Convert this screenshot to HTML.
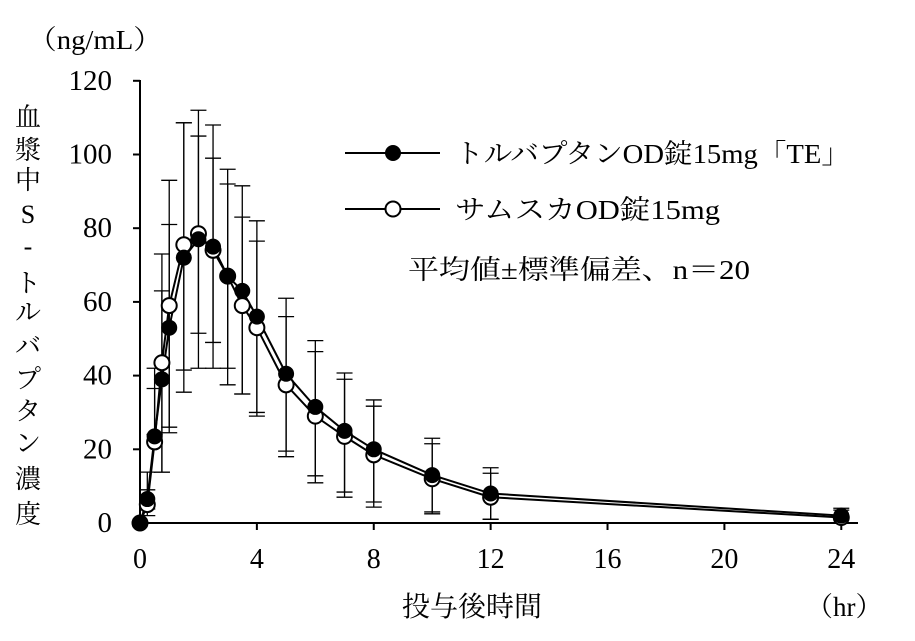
<!DOCTYPE html>
<html><head><meta charset="utf-8"><style>
body{margin:0;background:#fff}
svg{display:block}
text{font-family:"Liberation Serif","Noto Serif CJK JP",serif;fill:#000}
</style></head><body>
<svg id="s" width="915" height="641" xmlns="http://www.w3.org/2000/svg">
<text x="28" y="49" font-size="27" textLength="134" lengthAdjust="spacingAndGlyphs">（ng/mL）</text>
<g font-size="26" text-anchor="middle">
<text x="28" y="126">血</text><text x="28" y="159">漿</text><text x="28" y="189">中</text>
<text x="28" y="223">S</text><text x="28" y="255">-</text><text x="28" y="292">ト</text>
<text x="28" y="321">ル</text><text x="28" y="355">バ</text><text x="28" y="388">プ</text>
<text x="28" y="420">タ</text><text x="28" y="452">ン</text><text x="28" y="488">濃</text>
<text x="28" y="523">度</text>
</g>
<text x="472" y="616" font-size="28" text-anchor="middle">投与後時間</text>
<text x="806" y="616" font-size="27">（hr）</text>
<g stroke="#000" stroke-width="2" fill="none">
<line x1="140" y1="80" x2="140" y2="524"/>
<line x1="139" y1="523" x2="858" y2="523"/>
</g>
<g id="g"></g>
<text x="455" y="163" font-size="27" textLength="395" lengthAdjust="spacingAndGlyphs">トルバプタンOD錠15mg「TE」</text>
<text x="455" y="219" font-size="27" textLength="265" lengthAdjust="spacingAndGlyphs">サムスカOD錠15mg</text>
<text x="408" y="279" font-size="27" textLength="342" lengthAdjust="spacingAndGlyphs">平均値±標準偏差、n＝20</text>
<g stroke="#000" stroke-width="2">
<line x1="345" y1="153" x2="440" y2="153"/><line x1="345" y1="209" x2="440" y2="209"/>
</g>
<circle cx="393" cy="153" r="8" fill="#000"/>
<circle cx="393" cy="209" r="7.5" fill="#fff" stroke="#000" stroke-width="2"/>
</svg>
<script>
var NS="http://www.w3.org/2000/svg",g=document.getElementById('g');
function X(t){return 140+t*29.22}function Y(v){return 523-v*3.685}
function el(n,a,p){var e=document.createElementNS(NS,n);for(var k in a)e.setAttribute(k,a[k]);(p||g).appendChild(e);return e}
for(var i=0;i<=6;i++){var v=i*20;el('line',{x1:133,x2:140,y1:Y(v),y2:Y(v),stroke:'#000','stroke-width':2});
var t=el('text',{x:112,y:Y(v)+9,'font-size':29,'text-anchor':'end'});t.textContent=v;}
[0,4,8,12,16,20,24].forEach(function(h){el('line',{x1:X(h),x2:X(h),y1:523,y2:530,stroke:'#000','stroke-width':2});
var t=el('text',{x:X(h),y:568,'font-size':28,'text-anchor':'middle'});t.textContent=h;});
var T=[0,0.25,0.5,0.75,1,1.5,2,2.5,3,3.5,4,5,6,7,8,10,12,24];
var A=[0,6.5,23.5,39,53,72,77,75,67,63,56,40.5,31.5,25,20,13,8,2];
var B=[0,5,22,43.5,59,75.5,78.5,74,67,59,53,37.5,29,23.5,18.5,12,7,1.5];
var up=[[0,0],[13.8,9],[42,36.5],[73,63],[93,81],[108.6,108.6],[112,105],[108,99],[96,92],[91.5,83],[82,76.5],[61,56],[49.5,46.5],[40.7,39],[33.4,31.7],[23,21.5],[15,13.5],[4,3.5]];
var lo=[[0,0],[3.8,2],[24,24],[13.8,13.8],[24.5,26],[35.5,41.5],[51.5,42],[49,42],[42,37.5],[35,35],[30,29],[19.5,18],[12.8,10.9],[8.4,7],[5.7,4.3],[3,2.5],[1,1],[0,0]];
for(var i=1;i<T.length;i++){var x=X(T[i]);
for(var j=0;j<2;j++){var a=Y(up[i][j]),b=Y(lo[i][j]);
el('line',{x1:x,x2:x,y1:a,y2:b,stroke:'#000','stroke-width':1.3});
el('line',{x1:x-8,x2:x+8,y1:a,y2:a,stroke:'#000','stroke-width':1.3});
el('line',{x1:x-8,x2:x+8,y1:b,y2:b,stroke:'#000','stroke-width':1.3});}}
function poly(D){return T.map(function(t,i){return X(t)+','+Y(D[i])}).join(' ')}
el('polyline',{points:poly(B),fill:'none',stroke:'#000','stroke-width':2});
el('polyline',{points:poly(A),fill:'none',stroke:'#000','stroke-width':2});
T.forEach(function(t,i){el('circle',{cx:X(t),cy:Y(B[i]),r:7.5,fill:'#fff',stroke:'#000','stroke-width':2});});
T.forEach(function(t,i){el('circle',{cx:X(t),cy:Y(A[i]),r:8,fill:'#000'});});
</script>
</body></html>
